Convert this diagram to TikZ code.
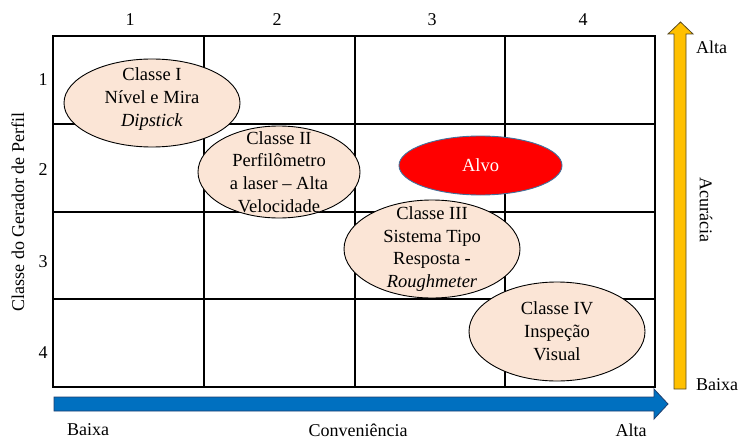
\documentclass[tikz,border=0pt]{standalone}
\usepackage{fontspec}
\setmainfont{Liberation Serif}
\usetikzlibrary{shapes.geometric}
\definecolor{peach}{HTML}{FBE5D6}
\definecolor{arrblue}{HTML}{0070C0}
\definecolor{arrblueline}{HTML}{1F3F6F}
\definecolor{arrorange}{HTML}{FFC000}
\definecolor{arrorangeline}{HTML}{5A4A20}
\definecolor{alvoline}{HTML}{41719C}
\begin{document}
\begin{tikzpicture}[x=1pt,y=-1pt,
  gridline/.style={line width=1.1pt, black},
  cls/.style={ellipse, draw=black, fill=peach, line width=0.9pt, inner sep=0pt},
  lbl/.style={font=\rmfamily\fontsize{18.5}{22.8}\selectfont, align=center, inner sep=0pt},
  axlbl/.style={font=\rmfamily\fontsize{18}{22}\selectfont, inner sep=0pt}]
\useasboundingbox (0,0) rectangle (738,441);
\fill[white] (0,0) rectangle (738,441);
% grid
\draw[gridline] (53,36) rectangle (655,387);
\foreach \x in {204,355,505} \draw[gridline] (\x,36) -- (\x,387);
\foreach \y in {124,212,299} \draw[gridline] (53,\y) -- (655,\y);
% column numbers
\node[axlbl] (c1) at (130,20) {1};
\node[axlbl] (c2) at (277,20) {2};
\node[axlbl] (c3) at (432,20) {3};
\node[axlbl] (c4) at (583,20) {4};
% row numbers
\node[axlbl] (r1) at (43,80) {1};
\node[axlbl] (r2) at (43,170) {2};
\node[axlbl] (r3) at (43,262) {3};
\node[axlbl] (r4) at (43,353) {4};
% axis titles
\node[axlbl, rotate=90] (ytitle) at (18,212) {Classe do Gerador de Perfil};
\node[axlbl, rotate=-90] (acc) at (706,210) {Acurácia};
\node[axlbl, anchor=west] (altaR) at (696,47) {Alta};
\node[axlbl, anchor=west] (baixaR) at (696,385) {Baixa};
\node[axlbl] (baixaB) at (88,430) {Baixa};
\node[axlbl] (conv) at (358,430) {Conveniência};
\node[axlbl] (altaB) at (631,430) {Alta};
% arrows
\draw[fill=arrblue, draw=arrblueline, line width=0.8pt, line join=miter]
  (54,397) -- (654,397) -- (654,389) -- (668,404) -- (654,419) -- (654,411) -- (54,411) -- cycle;
\draw[fill=arrorange, draw=arrorangeline, line width=0.8pt, line join=miter]
  (674,389) -- (674,34) -- (668,34) -- (680.5,22) -- (693,34) -- (686,34) -- (686,389) -- cycle;
% ellipses
\node[cls, minimum width=176pt, minimum height=88pt] (e1) at (152,103) {};
\node[lbl] (t1) at ([yshift=4pt]e1.center) {Classe I\\Nível e Mira\\\textit{Dipstick}};
\node[cls, minimum width=162pt, minimum height=92pt] (e2) at (279,172) {};
\node[lbl] (t2) at (e2.center) {Classe II\\Perfilômetro\\a laser – Alta\\Velocidade};
\node[ellipse, fill=red, draw=alvoline, line width=0.9pt, inner sep=0pt, minimum width=163pt, minimum height=59pt] (alvo) at (480.5,165.5) {};
\node[lbl, text=white] (talvo) at (alvo.center) {Alvo};
\node[cls, minimum width=176pt, minimum height=98pt] (e3) at (432,249) {};
\node[lbl] (t3) at (e3.center) {Classe III\\Sistema Tipo\\Resposta -\\\textit{Roughmeter}};
\node[cls, minimum width=176pt, minimum height=99pt] (e4) at (557,331.5) {};
\node[lbl] (t4) at (e4.center) {Classe IV\\Inspeção\\Visual};
\end{tikzpicture}
\end{document}
